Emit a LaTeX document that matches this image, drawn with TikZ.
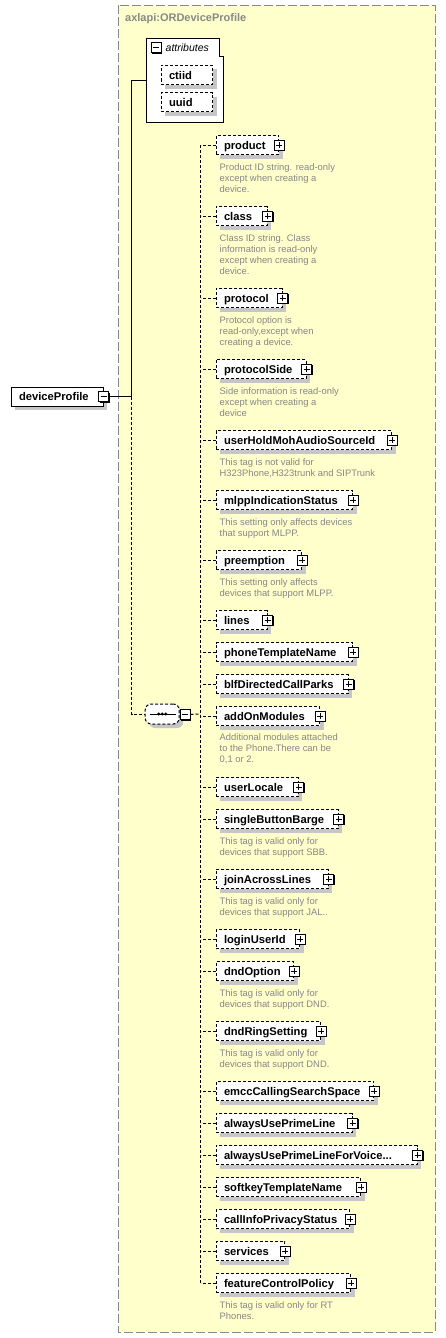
\documentclass[tikz,border=0pt]{standalone}
\usepackage{fontspec}
\setmainfont{Liberation Sans}
\usepackage{tikz}
\usetikzlibrary{shadows}
\definecolor{paleyellow}{HTML}{FFFFCC}
\definecolor{framegray}{HTML}{888888}
\definecolor{notegray}{HTML}{868686}
\colorlet{shadowgray}{gray!45}

\begin{document}
\begin{tikzpicture}[x=1pt,y=-1pt,
    box/.style={draw,fill=white,line width=1pt,inner sep=0pt,minimum height=19pt,anchor=west,
        text height=8.5pt,text depth=0.5pt,
        font=\fontsize{11.2}{13}\selectfont\bfseries,
        drop shadow={shadow xshift=4pt,shadow yshift=-4pt,fill=shadowgray,opacity=1}},
    elem/.style={box,dash pattern=on 3pt off 2pt,inner xsep=8pt,text width=#1,align=left},
    note/.style={anchor=north west,inner sep=0pt,align=left,text=notegray,
        font=\fontsize{9.4}{11}\selectfont},
    signbox/.style={draw,fill=white,line width=1pt,minimum size=10pt,inner sep=0pt,
        drop shadow={shadow xshift=1pt,shadow yshift=-1pt,fill=black,opacity=1}},
    plus/.style={signbox,path picture={
        \draw[line width=1pt] ([xshift=2pt]path picture bounding box.west) -- ([xshift=-2pt]path picture bounding box.east)
            ([yshift=-2pt]path picture bounding box.north) -- ([yshift=2pt]path picture bounding box.south);}},
    minus/.style={signbox,path picture={
        \draw[line width=1pt] ([xshift=2pt]path picture bounding box.west) -- ([xshift=-2pt]path picture bounding box.east);}},
    link/.style={line width=1pt,dash pattern=on 3pt off 2pt}]
    \useasboundingbox (0,0) rectangle (445,1338);
    \fill[white] (0,0) rectangle (445,1338);
    % complex type frame
    \draw[framegray,fill=paleyellow,line width=1pt,dash pattern=on 9pt off 3pt] (118.5,5.5) rectangle (435,1332);
    \node[anchor=west,inner sep=0pt,text=framegray,font=\fontsize{11}{13}\selectfont\bfseries] (title) at (125,19) {axlapi:ORDeviceProfile};
    % attributes
    \draw[line width=1pt,fill=white] (146.5,38.5) -- (219,38.5) -- (219,56.5) -- (223,56.5) -- (223,122.5) -- (146.5,122.5) -- cycle;
    \node[minus] (attrminus) at (156,48) {};
    \node[anchor=west,inner sep=0pt,font=\fontsize{10.5}{12}\selectfont\itshape] (attrlabel) at (165.5,48) {attributes};
    \node[elem=35.5pt] (ctiid) at (160.5,75) {ctiid};
    \node[elem=35.5pt] (uuid) at (160.5,102) {uuid};
    \coordinate (attrjoin) at (146.5,80.5);
    % root element
    \node[box,inner xsep=8pt,text width=76pt,align=left] (deviceProfile) at (10.5,396.7) {deviceProfile};
    \node[minus] (devminus) at (deviceProfile.east) {};
    \coordinate (trunk) at (131.7,396.7);
    \draw[line width=1pt] (devminus) -- (trunk) |- (attrjoin);
    % sequence
    \node[draw,fill=white,line width=1pt,dash pattern=on 3pt off 2pt,rounded corners=6pt,
        minimum width=34pt,minimum height=20pt,inner sep=0pt,
        drop shadow={shadow xshift=4pt,shadow yshift=-4pt,fill=shadowgray,opacity=1}] (sequence) at (162.2,714) {};
    \draw[line width=1pt] ([xshift=5pt]sequence.west) -- ([xshift=-4pt]sequence.east);
    \fill ([xshift=-3.5pt]sequence.center) circle (1.6pt) (sequence.center) circle (1.6pt) ([xshift=3.5pt]sequence.center) circle (1.6pt);
    \node[minus] (seqminus) at (185,714.5) {};
    \draw[link] (trunk) |- (sequence);
    \coordinate (spine) at (200.5,714);
    \coordinate (spinetop) at (200.5,145);
    \coordinate (spinebot) at (200.5,1283);
    \draw[link] (seqminus) -- (spine);
    \draw[link] (spinetop) -- (spinebot);
    % children
    \node[elem=46.8pt] (product) at (215.5,145) {product};
    \node[plus] (productplus) at (product.east) {};
    \draw[link] (product) -- (product -| spine);
    \node[note] (productnote) at (219.5,163) {Product ID string. read-only\\except when creating a\\device.};

    \node[elem=35.2pt] (class) at (215.5,216) {class};
    \node[plus] (classplus) at (class.east) {};
    \draw[link] (class) -- (class -| spine);
    \node[note] (classnote) at (219.5,234) {Class ID string. Class\\information is read-only\\except when creating a\\device.};

    \node[elem=50.2pt] (protocol) at (215.5,298) {protocol};
    \node[plus] (protocolplus) at (protocol.east) {};
    \draw[link] (protocol) -- (protocol -| spine);
    \node[note] (protocolnote) at (219.5,316) {Protocol option is\\read-only,except when\\creating a device.};

    \node[elem=74.2pt] (protocolSide) at (215.5,369) {protocolSide};
    \node[plus] (protocolSideplus) at (protocolSide.east) {};
    \draw[link] (protocolSide) -- (protocolSide -| spine);
    \node[note] (protocolSidenote) at (219.5,387) {Side information is read-only\\except when creating a\\device};

    \node[elem=159.5pt] (userHold) at (215.5,440) {userHoldMohAudioSourceId};
    \node[plus] (userHoldplus) at (userHold.east) {};
    \draw[link] (userHold) -- (userHold -| spine);
    \node[note] (userHoldnote) at (219.5,458) {This tag is not valid for\\H323Phone,H323trunk and SIPTrunk};

    \node[elem=120.8pt] (mlpp) at (215.5,500) {mlppIndicationStatus};
    \node[plus] (mlppplus) at (mlpp.east) {};
    \draw[link] (mlpp) -- (mlpp -| spine);
    \node[note] (mlppnote) at (219.5,518) {This setting only affects devices\\that support MLPP.};

    \node[elem=69.5pt] (preemption) at (215.5,560) {preemption};
    \node[plus] (preemptionplus) at (preemption.east) {};
    \draw[link] (preemption) -- (preemption -| spine);
    \node[note] (preemptionnote) at (219.5,578) {This setting only affects\\devices that support MLPP.};

    \node[elem=35.2pt] (lines) at (215.5,620) {lines};
    \node[plus] (linesplus) at (lines.east) {};
    \draw[link] (lines) -- (lines -| spine);

    \node[elem=120.8pt] (phoneTemplate) at (215.5,652) {phoneTemplateName};
    \node[plus] (phoneTemplateplus) at (phoneTemplate.east) {};
    \draw[link] (phoneTemplate) -- (phoneTemplate -| spine);

    \node[elem=116.2pt] (blfParks) at (215.5,684) {blfDirectedCallParks};
    \node[plus] (blfParksplus) at (blfParks.east) {};
    \draw[link] (blfParks) -- (blfParks -| spine);

    \node[elem=87.5pt] (addOn) at (215.5,716) {addOnModules};
    \node[plus] (addOnplus) at (addOn.east) {};
    \draw[link] (addOn) -- (addOn -| spine);
    \node[note] (addOnnote) at (219.5,733) {Additional modules attached\\to the Phone.There can be\\0,1 or 2.};

    \node[elem=66.2pt] (userLocale) at (215.5,787) {userLocale};
    \node[plus] (userLocaleplus) at (userLocale.east) {};
    \draw[link] (userLocale) -- (userLocale -| spine);

    \node[elem=106.2pt] (sbb) at (215.5,819) {singleButtonBarge};
    \node[plus] (sbbplus) at (sbb.east) {};
    \draw[link] (sbb) -- (sbb -| spine);
    \node[note] (sbbnote) at (219.5,837) {This tag is valid only for\\devices that support SBB.};

    \node[elem=96.2pt] (jal) at (215.5,879) {joinAcrossLines};
    \node[plus] (jalplus) at (jal.east) {};
    \draw[link] (jal) -- (jal -| spine);
    \node[note] (jalnote) at (219.5,897) {This tag is valid only for\\devices that support JAL..};

    \node[elem=67.5pt] (loginUser) at (215.5,939) {loginUserId};
    \node[plus] (loginUserplus) at (loginUser.east) {};
    \draw[link] (loginUser) -- (loginUser -| spine);

    \node[elem=61.5pt] (dndOption) at (215.5,971) {dndOption};
    \node[plus] (dndOptionplus) at (dndOption.east) {};
    \draw[link] (dndOption) -- (dndOption -| spine);
    \node[note] (dndOptionnote) at (219.5,989) {This tag is valid only for\\devices that support DND.};

    \node[elem=88.5pt] (dndRing) at (215.5,1031) {dndRingSetting};
    \node[plus] (dndRingplus) at (dndRing.east) {};
    \draw[link] (dndRing) -- (dndRing -| spine);
    \node[note] (dndRingnote) at (219.5,1049) {This tag is valid only for\\devices that support DND.};

    \node[elem=141.8pt] (emcc) at (215.5,1091) {emccCallingSearchSpace};
    \node[plus] (emccplus) at (emcc.east) {};
    \draw[link] (emcc) -- (emcc -| spine);

    \node[elem=120.2pt] (primeLine) at (215.5,1123) {alwaysUsePrimeLine};
    \node[plus] (primeLineplus) at (primeLine.east) {};
    \draw[link] (primeLine) -- (primeLine -| spine);

    \node[elem=185.2pt] (primeVoice) at (215.5,1155) {alwaysUsePrimeLineForVoice...};
    \node[plus] (primeVoiceplus) at (primeVoice.east) {};
    \draw[link] (primeVoice) -- (primeVoice -| spine);

    \node[elem=128.5pt] (softkey) at (215.5,1187) {softkeyTemplateName};
    \node[plus] (softkeyplus) at (softkey.east) {};
    \draw[link] (softkey) -- (softkey -| spine);

    \node[elem=117.5pt] (callInfo) at (215.5,1219) {callInfoPrivacyStatus};
    \node[plus] (callInfoplus) at (callInfo.east) {};
    \draw[link] (callInfo) -- (callInfo -| spine);

    \node[elem=52.8pt] (services) at (215.5,1251) {services};
    \node[plus] (servicesplus) at (services.east) {};
    \draw[link] (services) -- (services -| spine);

    \node[elem=118.5pt] (featurePolicy) at (215.5,1283) {featureControlPolicy};
    \node[plus] (featurePolicyplus) at (featurePolicy.east) {};
    \draw[link] (featurePolicy) -- (featurePolicy -| spine);
    \node[note] (featurePolicynote) at (219.5,1301) {This tag is valid only for RT\\Phones.};
\end{tikzpicture}
\end{document}
